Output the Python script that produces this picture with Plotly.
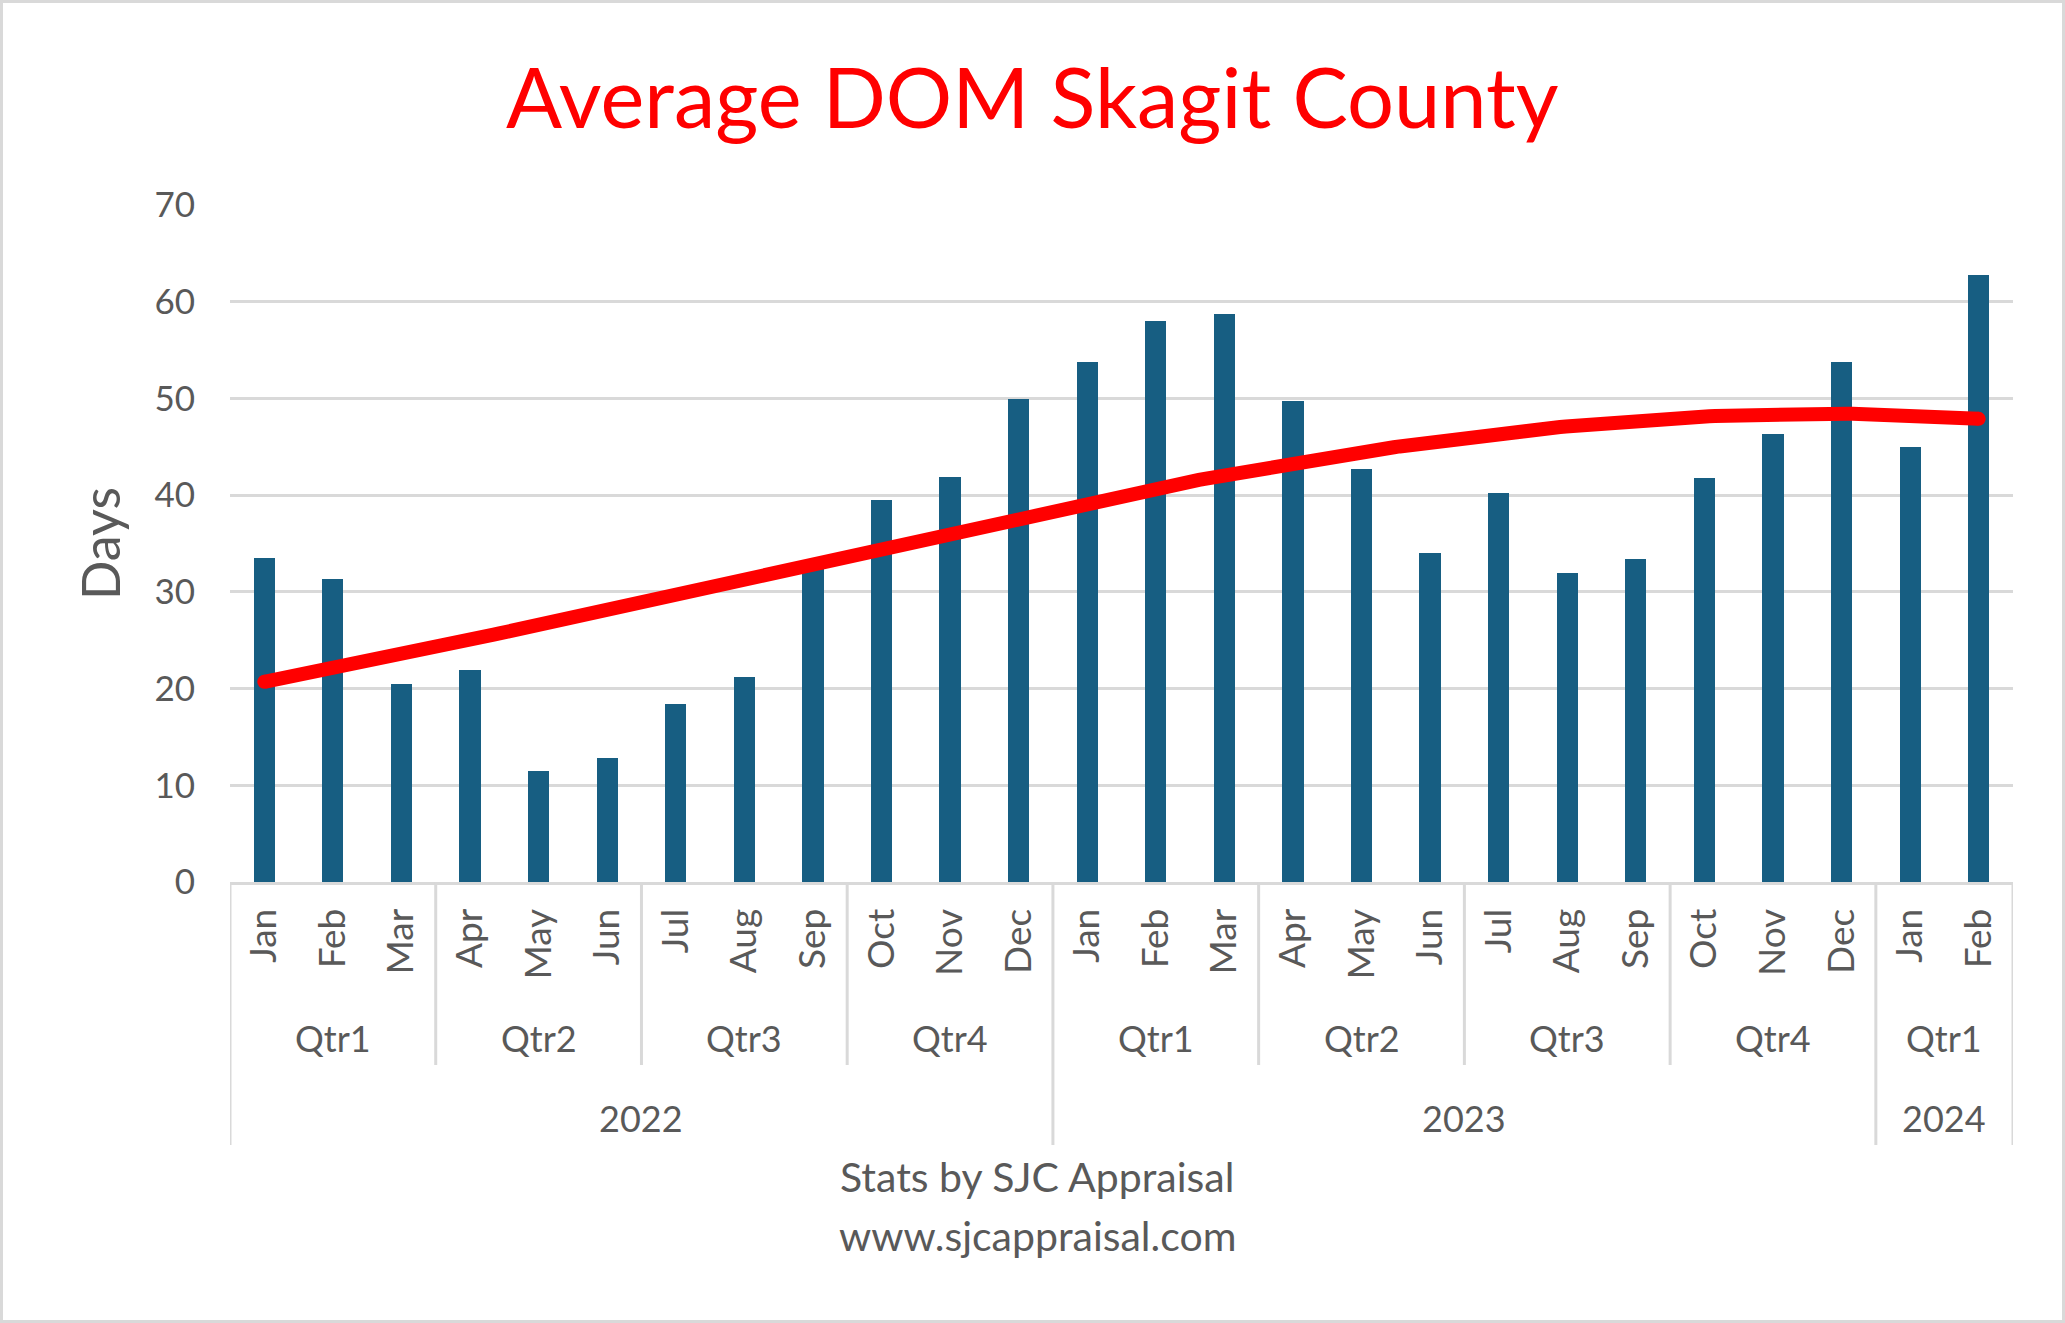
import numpy as np
import plotly.graph_objects as go

# ---------------- data ----------------
months = ["Jan", "Feb", "Mar", "Apr", "May", "Jun", "Jul", "Aug", "Sep", "Oct", "Nov", "Dec",
          "Jan", "Feb", "Mar", "Apr", "May", "Jun", "Jul", "Aug", "Sep", "Oct", "Nov", "Dec",
          "Jan", "Feb"]
quarters = ["Qtr1", "Qtr2", "Qtr3", "Qtr4", "Qtr1", "Qtr2", "Qtr3", "Qtr4", "Qtr1"]
quarter_sizes = [3, 3, 3, 3, 3, 3, 3, 3, 2]
years = ["2022", "2023", "2024"]
year_sizes = [12, 12, 2]
dom_days = [33.5, 31.3, 20.5, 21.9, 11.5, 12.8, 18.4, 21.2, 32.4, 39.5, 41.9, 49.9,
            53.8, 58.0, 58.7, 49.7, 42.7, 34.0, 40.2, 31.9, 33.4, 41.8, 46.3, 53.8,
            45.0, 62.8]
y_ticks = [0, 10, 20, 30, 40, 50, 60, 70]

# ---------------- layout constants (px) ----------------
W, H = 2065, 1323
L, R, T, B = 230, 52, 205, 441
PW, PH = W - L - R, H - T - B
FONT = "Lato"
GREY = "#595959"
LINE = "#d9d9d9"
BAR = "#175e82"


def py(px_y):
    """pixel y (from top) -> paper y"""
    return (H - B - px_y) / PH


def pxx(px_x):
    return (px_x - L) / PW


x = np.arange(1, len(dom_days) + 1)

fig = go.Figure()
fig.add_trace(go.Bar(x=x, y=dom_days, width=0.31, marker=dict(color=BAR, line=dict(width=0)),
                     showlegend=False, hoverinfo="y"))

# polynomial (order 3) trendline computed from the data
coef = np.polyfit(x, dom_days, 3)
xt = np.linspace(1, len(dom_days), 300)
yt = np.polyval(coef, xt)
fig.add_trace(go.Scatter(x=xt, y=yt, mode="lines", line=dict(color="#ff0000", width=14),
                         showlegend=False, hoverinfo="skip"))
fig.add_trace(go.Scatter(x=[xt[0], xt[-1]], y=[yt[0], yt[-1]], mode="markers",
                         marker=dict(color="#ff0000", size=14, line=dict(width=0)),
                         showlegend=False, hoverinfo="skip"))

shapes = []
annotations = []

# quarter separators and labels
pos = 0.5
bounds_q = [pos]
for q, n in zip(quarters, quarter_sizes):
    annotations.append(dict(x=pos + n / 2, y=py(1038), xref="x", yref="paper", text=q,
                            showarrow=False, font=dict(family=FONT, size=36, color=GREY),
                            xanchor="center", yanchor="middle"))
    pos += n
    bounds_q.append(pos)
pos = 0.5
bounds_y = [pos]
for yr, n in zip(years, year_sizes):
    annotations.append(dict(x=pos + n / 2, y=py(1118), xref="x", yref="paper", text=yr,
                            showarrow=False, font=dict(family=FONT, size=36, color=GREY),
                            xanchor="center", yanchor="middle"))
    pos += n
    bounds_y.append(pos)

for b in bounds_q:
    y1 = py(1145) if b in bounds_y else py(1065)
    shapes.append(dict(type="line", xref="x", yref="paper", x0=b, x1=b, y0=0, y1=y1,
                       line=dict(color=LINE, width=3)))

# outer chart border
shapes.append(dict(type="rect", xref="paper", yref="paper", x0=pxx(1.5), x1=pxx(W - 1.5),
                   y0=py(H - 1.5), y1=py(1.5), line=dict(color=LINE, width=3), layer="below"))

# footer text
annotations.append(dict(x=pxx(1037), y=py(1176), xref="paper", yref="paper",
                        text="Stats by SJC Appraisal", showarrow=False,
                        font=dict(family=FONT, size=41, color=GREY), xanchor="center", yanchor="middle"))
annotations.append(dict(x=pxx(1037), y=py(1235), xref="paper", yref="paper",
                        text="www.sjcappraisal.com", showarrow=False,
                        font=dict(family=FONT, size=41, color=GREY), xanchor="center", yanchor="middle"))
# y-axis title
annotations.append(dict(x=pxx(100), y=py(544), xref="paper", yref="paper", text="Days",
                        showarrow=False, textangle=-90,
                        font=dict(family=FONT, size=52, color=GREY), xanchor="center", yanchor="middle"))
# title
annotations.append(dict(x=pxx(1032), y=py(96), xref="paper", yref="paper",
                        text="Average DOM Skagit County", showarrow=False,
                        font=dict(family=FONT, size=83, color="#ff0000"), xanchor="center", yanchor="middle"))

fig.update_layout(
    width=W, height=H, margin=dict(l=L, r=R, t=T, b=B, pad=0),
    paper_bgcolor="white", plot_bgcolor="white",
    shapes=shapes, annotations=annotations, bargap=0,
    xaxis=dict(range=[0.5, len(dom_days) + 0.5], tickmode="array", tickvals=x, ticktext=months,
               tickangle=-90, showgrid=False, zeroline=False, showline=True, linecolor=LINE,
               linewidth=3, ticks="", ticklabelstandoff=9,
               tickfont=dict(family=FONT, size=37, color=GREY), fixedrange=True),
    yaxis=dict(range=[0, 70], tickmode="array", tickvals=y_ticks, showgrid=True, gridcolor=LINE,
               gridwidth=3, zeroline=False, showline=False, ticks="", ticklabelstandoff=34,
               tickfont=dict(family=FONT, size=35, color=GREY), fixedrange=True),
)

fig.write_html("out.html", config={"displayModeBar": False},
               post_script="document.body.style.margin='0';document.body.style.overflow='hidden';")
